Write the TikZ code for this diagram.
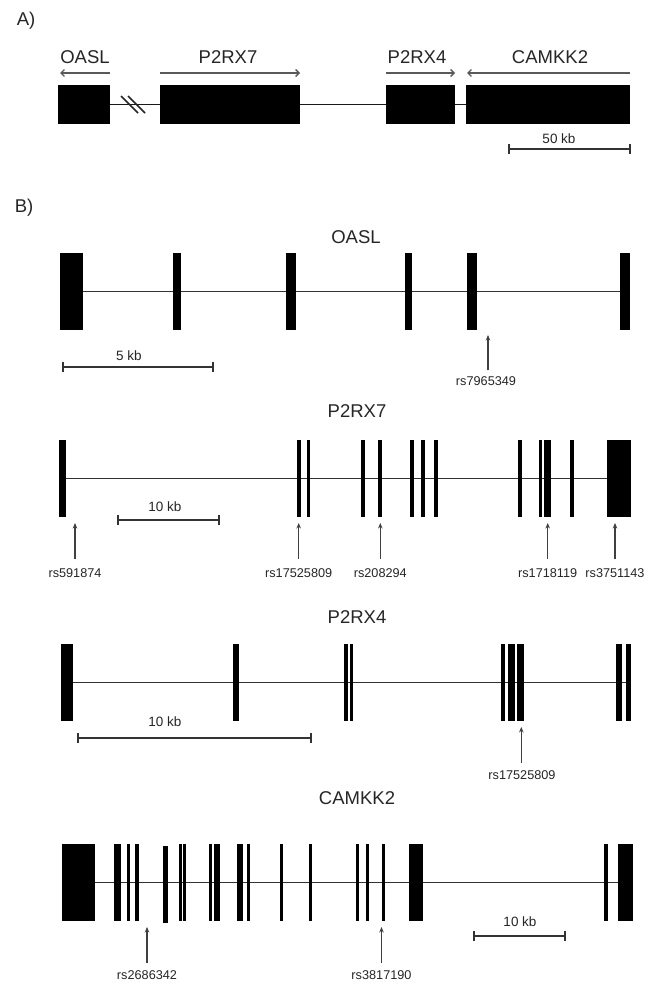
\documentclass[tikz,border=0pt]{standalone}
\usepackage{fontspec}
\setmainfont{Liberation Sans}
\usetikzlibrary{arrows.meta}
\begin{document}
\begin{tikzpicture}[x=1pt,y=-1pt,
  title/.style={font=\fontsize{18.5}{20}\selectfont, text=black!85, inner sep=0pt},
  snplabel/.style={font=\fontsize{12.7}{14}\selectfont, text=black!85, inner sep=0pt},
  scalelabel/.style={font=\fontsize{13.5}{15}\selectfont, text=black!85, inner sep=0pt},
  backbone/.style={draw=black!80, line width=1.7pt},
  lineA/.style={draw=black!90, line width=1.9pt},
  genebox/.style={fill=black, draw=none, inner sep=0pt, minimum height=39pt},
  snparrow/.style={draw=black!75, line width=1.3pt, -{Stealth[length=5.5pt,width=4.5pt]}},
  scalebar/.style={draw=black!80, line width=1.7pt, {Bar[width=10pt]}-{Bar[width=10pt]}},
  genearrow/.style={draw=black!65, line width=1.3pt, -{Straight Barb[length=3.5pt,width=7pt]}},
  exonthin/.style={fill=black},
]
\useasboundingbox[fill=white] (0,0) rectangle (655,982);

% ---------------- Panel A ----------------
\node[title] (labA) at (26,21) {A)};
\node[title] (tOA) at (85,57) {OASL};
\node[title] (tPA7) at (228,57) {P2RX7};
\node[title] (tPA4) at (417,57) {P2RX4};
\node[title] (tCA) at (550,57) {CAMKK2};

\coordinate (aO1) at (110,73); \coordinate (aO2) at (60,73);
\coordinate (aP71) at (160,73); \coordinate (aP72) at (300,73);
\coordinate (aP41) at (386,73); \coordinate (aP42) at (455,73);
\coordinate (aC1) at (630,73); \coordinate (aC2) at (467,73);
\draw[genearrow] (aO1) -- (aO2);
\draw[genearrow] (aP71) -- (aP72);
\draw[genearrow] (aP41) -- (aP42);
\draw[genearrow] (aC1) -- (aC2);

\node[genebox, minimum width=52pt] (bO) at (84,104.5) {};
\node[genebox, minimum width=140pt] (bP7) at (230,104.5) {};
\node[genebox, minimum width=69pt] (bP4) at (420.5,104.5) {};
\node[genebox, minimum width=164pt] (bC) at (548,104.5) {};
\draw[lineA] (bO.east) -- (bP7.west);
\draw[lineA] (bP7.east) -- (bP4.west);
\draw[lineA] (bP4.east) -- (bC.west);
\coordinate (br1a) at (121,96); \coordinate (br1b) at (138,113);
\coordinate (br2a) at (128,96); \coordinate (br2b) at (145,113);
\draw[black!85, line width=1.5pt] (br1a) -- (br1b);
\draw[black!85, line width=1.5pt] (br2a) -- (br2b);

\coordinate (sA1) at (508,149); \coordinate (sA2) at (631,149);
\draw[scalebar] (sA1) -- (sA2);
\node[scalelabel] (sAl) at (559,139) {50 kb};

% ---------------- Panel B ----------------
\node[title] (labB) at (24,208) {B)};

% OASL
\node[title] (tO) at (356,237) {OASL};
\coordinate (oS) at (62,291.5); \coordinate (oE) at (628,291.5);
\draw[backbone] (oS) -- (oE);
\foreach \a/\b in {59.7/83.4, 173.3/180.5, 286/296, 404.5/411.6, 467/477, 620/630}
  \fill[black] (\a,253) rectangle (\b,330);
\coordinate (oSt) at (62,367); \coordinate (oSe) at (214,367);
\draw[scalebar] (oSt) -- (oSe);
\node[scalelabel] (oSl) at (129,356) {5 kb};
\coordinate (snpO1tip) at (488,335); \coordinate (snpO1tail) at (488,370);
\draw[snparrow] (snpO1tail) -- (snpO1tip);
\node[snplabel] (snpO1) at (486,381) {rs7965349};

% P2RX7
\node[title] (tP7) at (357,411) {P2RX7};
\coordinate (p7S) at (62,478.5); \coordinate (p7E) at (618,478.5);
\draw[backbone] (p7S) -- (p7E);
\foreach \a/\b in {59/66, 296.5/301, 307.2/309.8, 360.5/364.8, 377.5/381.8, 410.3/413.7, 421/424.6, 434/438, 517.5/522, 538.6/541.6, 544.3/551.3, 569.8/573.6, 607.3/630.7}
  \fill[black] (\a,440) rectangle (\b,517);
\coordinate (p7St) at (117,520); \coordinate (p7Se) at (220,520);
\draw[scalebar] (p7St) -- (p7Se);
\node[scalelabel] (p7Sl) at (165,507) {10 kb};
\foreach \n/\x/\lab in {1/75/rs591874, 2/298.7/rs17525809, 3/380.3/rs208294, 4/547.7/rs1718119, 5/615/rs3751143}{
  \coordinate (snpP7\n tip) at (\x,523);
  \coordinate (snpP7\n tail) at (\x,559);
  \draw[snparrow] (snpP7\n tail) -- (snpP7\n tip);
  \node[snplabel] (snpP7\n) at (\x,573) {\lab};
}

% P2RX4
\node[title] (tP4) at (357,617) {P2RX4};
\coordinate (p4S) at (66,682.5); \coordinate (p4E) at (627,682.5);
\draw[backbone] (p4S) -- (p4E);
\foreach \a/\b in {60.7/73.3, 233/239.3, 343.8/347.5, 349.5/352.6, 500.8/505.2, 508.3/515.3, 517.3/524.3, 615.7/622.3, 626/630.7}
  \fill[black] (\a,644) rectangle (\b,721);
\coordinate (p4St) at (77,738); \coordinate (p4Se) at (312,738);
\draw[scalebar] (p4St) -- (p4Se);
\node[scalelabel] (p4Sl) at (165,722) {10 kb};
\coordinate (snpP41tip) at (521.3,727); \coordinate (snpP41tail) at (521.3,763);
\draw[snparrow] (snpP41tail) -- (snpP41tip);
\node[snplabel] (snpP41) at (522,775) {rs17525809};

% CAMKK2
\node[title] (tC) at (357,798) {CAMKK2};
\coordinate (cS) at (79,882.5); \coordinate (cE) at (625,882.5);
\draw[backbone] (cS) -- (cE);
\foreach \a/\b in {62.3/95.3, 113.7/120.7, 126.7/129.5, 134.7/139.2, 179.4/182.2, 183.1/185.8, 208.8/211.6, 214.3/220, 237.3/243.3, 246.8/249.6, 280.3/282.7, 308.7/312.3, 355.8/358.8, 365.8/368.8, 382.1/385.1, 409.3/422.7, 604/608.3, 618.3/633.3}
  \fill[black] (\a,844) rectangle (\b,921);
\fill[black] (163.3,846) rectangle (167.7,922.5);
\coordinate (cSt) at (473,936); \coordinate (cSe) at (566,936);
\draw[scalebar] (cSt) -- (cSe);
\node[scalelabel] (cSl) at (520,922) {10 kb};
\foreach \n/\x/\lab in {1/147/rs2686342, 2/381.5/rs3817190}{
  \coordinate (snpC\n tip) at (\x,927);
  \coordinate (snpC\n tail) at (\x,963);
  \draw[snparrow] (snpC\n tail) -- (snpC\n tip);
  \node[snplabel] (snpC\n) at (\x,975) {\lab};
}
\end{tikzpicture}
\end{document}
